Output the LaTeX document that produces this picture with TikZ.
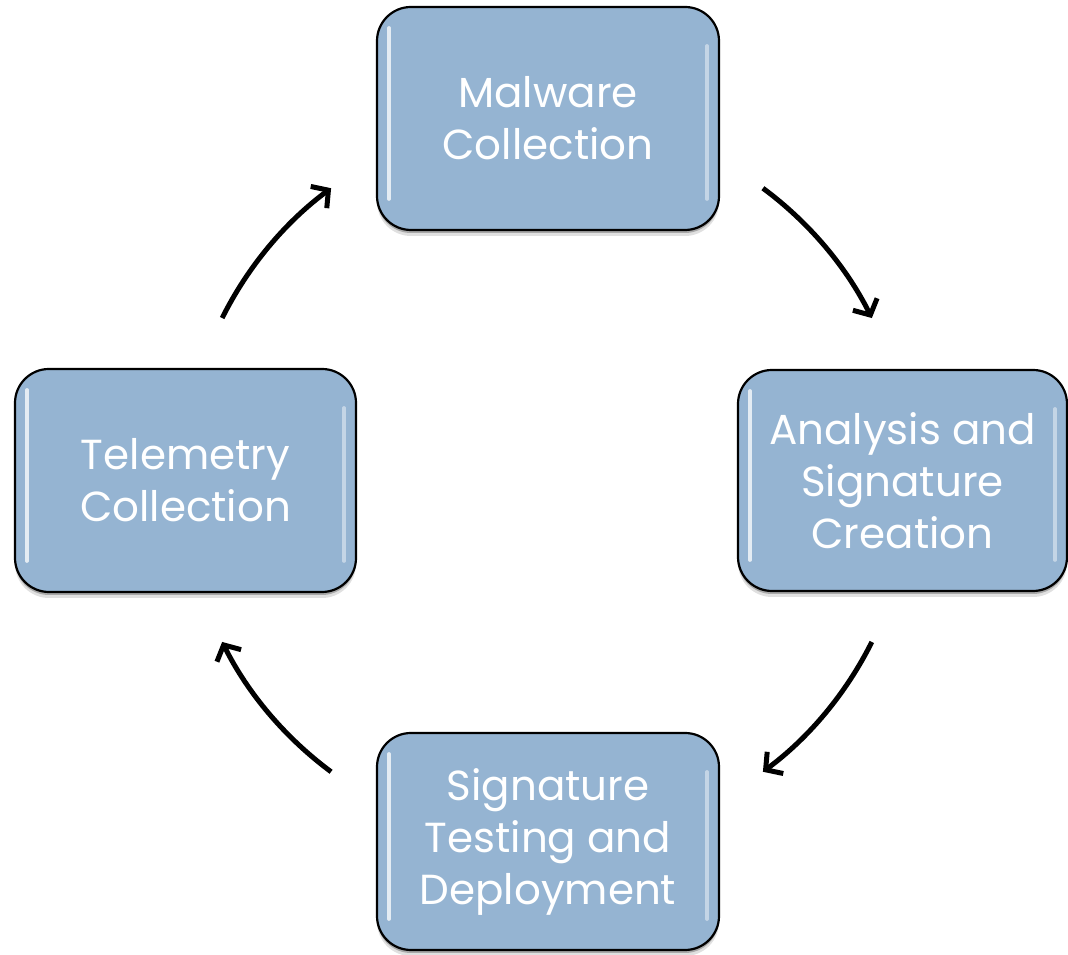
\documentclass[tikz,border=0pt]{standalone}
\usepackage{fontspec}
\setmainfont{Poppins}
\usetikzlibrary{arrows.meta,calc,shadows}
\definecolor{boxblue}{HTML}{95B4D2}
\begin{document}
\begin{tikzpicture}[x=1pt,y=1pt,
  stagebox/.style={draw=black, line width=2.2pt, fill=boxblue,
    rounded corners=34pt, text=white, align=center, inner sep=0pt,
    font=\fontsize{42}{52}\selectfont,
    drop shadow={shadow xshift=0pt, shadow yshift=-3pt, opacity=.25, fill=black},
    drop shadow={shadow xshift=0pt, shadow yshift=-6pt, opacity=.12, fill=black}},
  hl/.style={white, line width=3.5pt, line cap=round, opacity=.75},
  flow/.style={line width=5pt, -{Straight Barb[length=12pt,width=27pt]}}]
\useasboundingbox (0,0) rectangle (1068,955);
\node[stagebox, minimum width=342pt, minimum height=223pt] (m) at (548,836.5) {Malware\\Collection};
\node[stagebox, minimum width=329pt, minimum height=221pt] (a) at (902.5,474.5) {Analysis and\\Signature\\Creation};
\node[stagebox, minimum width=341pt, minimum height=223pt] (t) at (185.5,474.5) {Telemetry\\Collection};
\node[stagebox, minimum width=342pt, minimum height=217pt] (s) at (548,113.5) {Signature\\Testing and\\Deployment};
\foreach \n in {m,a,t,s}{
  \draw[hl] ([xshift=13pt,yshift=-22pt]\n.north west) -- ([xshift=13pt,yshift=32pt]\n.south west);
  \draw[hl, opacity=.45] ([xshift=-13pt,yshift=-40pt]\n.north east) -- ([xshift=-13pt,yshift=32pt]\n.south east);
}
\coordinate (o) at (547,475);
\coordinate (p1) at ($(o)+(53.5:363)$);
\coordinate (p2) at ($(o)+(-26.5:363)$);
\coordinate (p3) at ($(o)+(-126.5:363)$);
\coordinate (p4) at ($(o)+(153.5:363)$);
\draw[flow] (p1) arc[start angle=53.5, end angle=26.5, radius=363];
\draw[flow] (p2) arc[start angle=-26.5, end angle=-53.5, radius=363];
\draw[flow] (p3) arc[start angle=-126.5, end angle=-153.5, radius=363];
\draw[flow] (p4) arc[start angle=153.5, end angle=126.5, radius=363];
\end{tikzpicture}
\end{document}
